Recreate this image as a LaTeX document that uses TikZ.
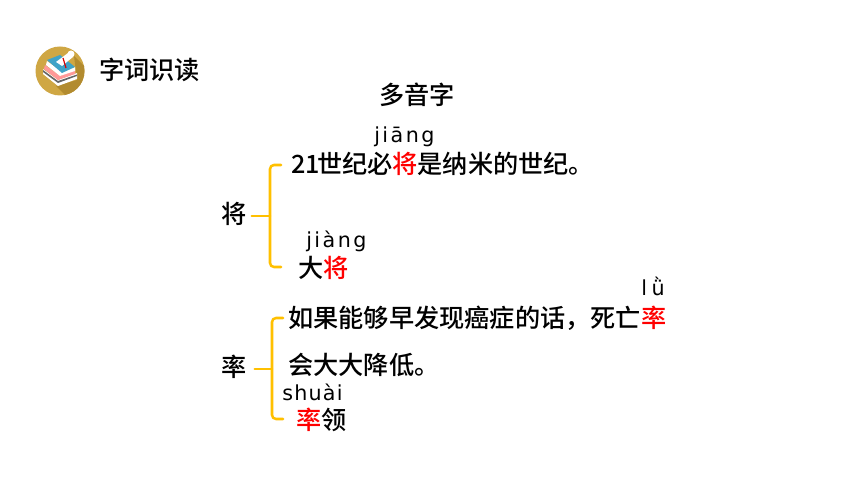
\documentclass[tikz,border=0pt]{standalone}
\usepackage{fontspec}
\setmainfont{Noto Sans CJK SC}
\newfontfamily\cjk{Noto Sans CJK SC Medium}
\newfontfamily\py{DejaVu Sans}
\definecolor{brace}{HTML}{FFC000}
\definecolor{gold}{HTML}{CFA744}
\definecolor{goldd}{HTML}{B28B2F}
\definecolor{bookblue}{HTML}{3FA3C8}
\tikzset{
 txt/.style={anchor=base west,inner sep=0pt,font=\fontsize{18.9}{19}\cjk,text=black},
 pin/.style={anchor=base west,inner sep=0pt,font=\fontsize{15.5}{16}\py,text=black},
 br/.style={draw=brace,line width=1.9pt,line cap=round,line join=round,rounded corners=3pt}
}
\newcommand{\hl}[1]{\textcolor{red}{#1}}
\newcommand{\lsp}[2]{{\addfontfeature{LetterSpace=#1}#2}}
\begin{document}
\begin{tikzpicture}[x=0.75pt,y=-0.75pt]
\useasboundingbox[fill=white] (0,0) rectangle (860,484);
% icon
\fill[gold] (60,71) circle (24.5);
\begin{scope}
\clip (60,71) circle (24.5);
\fill[goldd] (74,56) -- (100,82) -- (75,105) -- (56,86) -- (77,80) -- cycle;
\end{scope}
\fill[white] (43,69) -- (58,80) -- (77,73) -- (77,79) -- (58,86) -- (43,74) -- cycle;
\fill[black!60] (43,70) -- (58,81) -- (58,83) -- (43,72) -- cycle;
\fill[black!60] (58,81) -- (77,74.5) -- (77,76) -- (58,83) -- cycle;
\fill[red!40!white] (45,65) -- (60,76) -- (75,70) -- (75,74) -- (58,80) -- (44,69) -- cycle;
\fill[white] (47,61) -- (62,72) -- (75,67) -- (75,71) -- (60,76) -- (46,65) -- cycle;
\fill[bookblue] (47,60) -- (60,55) -- (75,67) -- (62,73) -- cycle;
\fill[white] (56,62) -- (68,53) -- (73,57) -- (62,66) -- cycle;
\fill[white] (71,54) circle (3.5);
\draw[red!85!black,line width=0.9pt] (63,58) -- (66,68);
% title
\node[txt] (title) at (99,80) {字词识读};
\node[txt] (dyz) at (379,105) {多音字};
% jiang
\node[txt] (jiang) at (221,224) {将};
\node[pin] (p1) at (374,143) {\lsp{12}{jiāng}};
\node[txt] (s1) at (291,174) {21\kern-2.25pt 世纪必\hl{将}是纳米的世纪。};
\node[pin] (p2) at (306,248) {\lsp{12}{jiàng}};
\node[txt] (s2) at (298,278) {大\hl{将}};
\coordinate (b1) at (270,216);
\draw[br] (jiang.east |- b1) ++(5,0) -- (b1);
\draw[br] (281,165) -- (270,165) -- (270,267) -- (281,267);
% lv
\node[txt] (lv) at (221,377) {率};
\node[pin] (p3) at (641,296) {\lsp{22}{lǜ}};
\node[txt] (s3) at (288,328) {如果能够早发现癌症的话，死亡\hl{率}};
\node[txt] (s4) at (288,374) {会大大降低。};
\node[pin] (p4) at (282,401) {\lsp{6}{shuài}};
\node[txt] (s5) at (296,430) {\hl{率}领};
\coordinate (b2) at (272,369);
\draw[br] (lv.east |- b2) ++(8,0) -- (b2);
\draw[br] (283,318) -- (272,318) -- (272,419) -- (283,419);
\end{tikzpicture}
\end{document}
